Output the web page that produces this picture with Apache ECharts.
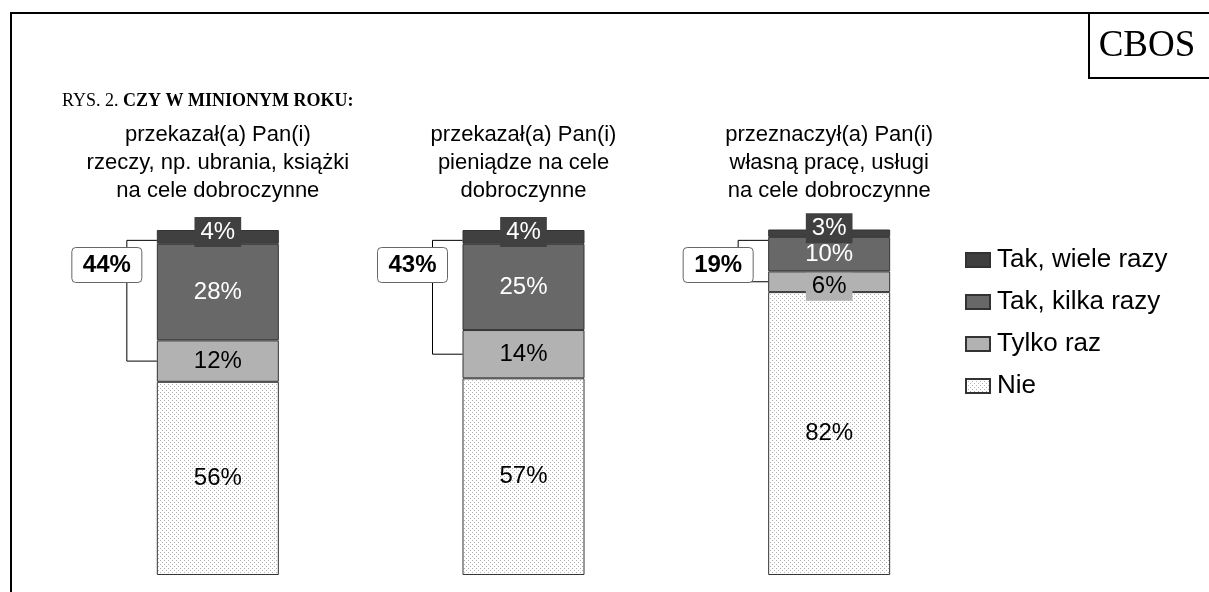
<!DOCTYPE html>
<html>
<head>
<meta charset="utf-8">
<script src="https://cdn.jsdelivr.net/npm/echarts@6/dist/echarts.min.js"></script>
<style>
html,body{margin:0;padding:0;background:#fff;}
#chart{width:1209px;height:592px;}
</style>
</head>
<body>
<div id="chart"></div>
<script>
// ---- data ----
var categories = [
  'przekazał(a) Pan(i)\nrzeczy, np. ubrania, książki\nna cele dobroczynne',
  'przekazał(a) Pan(i)\npieniądze na cele\ndobroczynne',
  'przeznaczył(a) Pan(i)\nwłasną pracę, usługi\nna cele dobroczynne'
];
var seriesNames = ['Tak, wiele razy', 'Tak, kilka razy', 'Tylko raz', 'Nie'];
var takWiele = [4, 4, 3];
var takKilka = [28, 25, 10];
var tylkoRaz = [12, 14, 6];
var nie = [56, 57, 82];
var takRazem = [44, 43, 19];

// ---- styles ----
var FONT = '"Liberation Sans", Arial, sans-serif';
var SERIF = '"Liberation Serif", "Times New Roman", serif';
var C_DARK = '#404040', C_MED = '#686868', C_LIGHT = '#b2b2b2';

function dotPattern() {
  var c = document.createElement('canvas');
  c.width = 4; c.height = 4;
  var ctx = c.getContext('2d');
  ctx.fillStyle = '#ffffff';
  ctx.fillRect(0, 0, 4, 4);
  ctx.fillStyle = '#b0b0b0';
  ctx.fillRect(0, 0, 1, 1);
  ctx.fillRect(2, 2, 1, 1);
  return c;
}

var chart = echarts.init(document.getElementById('chart'), null, {renderer: 'canvas'});

var baseItem = {borderColor: '#333333', borderWidth: 1};
var lblBase = {show: true, fontFamily: FONT, fontSize: 24, formatter: '{c}%'};

var option = {
  animation: false,
  backgroundColor: '#ffffff',
  title: {
    left: 57, top: 87,
    text: '{a|RYS. 2. }{b|CZY W MINIONYM ROKU:}',
    textStyle: {
      rich: {
        a: {fontFamily: SERIF, fontSize: 18, fontWeight: 'normal', color: '#000'},
        b: {fontFamily: SERIF, fontSize: 18, fontWeight: 'bold', color: '#000'}
      }
    }
  },
  legend: {
    orient: 'vertical', left: 965, top: 247, padding: 0,
    itemWidth: 24, itemHeight: 14, itemGap: 16,
    icon: 'rect',
    data: seriesNames,
    textStyle: {fontFamily: FONT, fontSize: 26, color: '#000', lineHeight: 26, padding: [0, 0, 0, 2]}
  },
  grid: {left: 65, width: 917, top: 230, height: 345},
  xAxis: {
    type: 'category', position: 'top', data: categories,
    axisLine: {show: false}, axisTick: {show: false}, splitLine: {show: false},
    axisLabel: {fontFamily: FONT, fontSize: 22, lineHeight: 28, color: '#000', margin: 25, interval: 0}
  },
  yAxis: {type: 'value', min: 0, max: 100, show: false},
  series: [
    {
      name: 'Nie', type: 'bar', stack: 'a', barWidth: 122, data: nie,
      itemStyle: Object.assign({color: {image: dotPattern(), repeat: 'repeat'}}, baseItem),
      label: Object.assign({color: '#000'}, lblBase)
    },
    {
      name: 'Tylko raz', type: 'bar', stack: 'a', barWidth: 122,
      data: tylkoRaz.map(function (v, i) {
        return i === 2 ? {value: v, label: {offset: [0, 5]}} : v;
      }),
      itemStyle: Object.assign({color: C_LIGHT}, baseItem),
      label: Object.assign({color: '#000', backgroundColor: C_LIGHT, padding: [2, 6]}, lblBase)
    },
    {
      name: 'Tak, kilka razy', type: 'bar', stack: 'a', barWidth: 122, data: takKilka,
      itemStyle: Object.assign({color: C_MED}, baseItem),
      label: Object.assign({color: '#fff'}, lblBase)
    },
    {
      name: 'Tak, wiele razy', type: 'bar', stack: 'a', barWidth: 122, data: takWiele,
      itemStyle: Object.assign({color: C_DARK}, baseItem),
      label: Object.assign({color: '#fff', backgroundColor: C_DARK, padding: [3, 6], offset: [0, -5]}, lblBase)
    }
  ]
};
chart.setOption(option);

// ---- frame, CBOS box, brackets ----
var g = [
  {type: 'line', shape: {x1: 11, y1: 13, x2: 1215, y2: 13}, style: {stroke: '#000', lineWidth: 2}, z: 10},
  {type: 'line', shape: {x1: 11, y1: 12, x2: 11, y2: 600}, style: {stroke: '#000', lineWidth: 2}, z: 10},
  {type: 'rect', shape: {x: 1089, y: 13, width: 130, height: 65}, style: {fill: '#fff', stroke: '#000', lineWidth: 2}, z: 10},
  {type: 'text', x: 1147, y: 46, style: {text: 'CBOS', fontFamily: SERIF, fontSize: 37, fill: '#000', align: 'center', verticalAlign: 'middle'}, z: 11}
];
var halfBar = 61;
for (var i = 0; i < categories.length; i++) {
  var topPt = chart.convertToPixel({gridIndex: 0}, [i, 97]);
  var botPt = chart.convertToPixel({gridIndex: 0}, [i, nie[i] + tylkoRaz[i] * 0.5]);
  var boxPt = chart.convertToPixel({gridIndex: 0}, [i, 90]);
  var left = topPt[0] - halfBar;
  var vx = left - 30;
  g.push({
    type: 'polyline',
    shape: {points: [[left, topPt[1]], [vx, topPt[1]], [vx, botPt[1]], [left, botPt[1]]]},
    style: {stroke: '#000', lineWidth: 1, fill: null}, z: 5
  });
  g.push({
    type: 'rect', shape: {x: left - 85, y: boxPt[1] - 17, width: 70, height: 35, r: 4},
    style: {fill: '#fff', stroke: '#666', lineWidth: 1}, z: 6
  });
  g.push({
    type: 'text', x: left - 50, y: boxPt[1] + 1,
    style: {text: takRazem[i] + '%', fontFamily: FONT, fontSize: 24, fontWeight: 'bold', fill: '#000', align: 'center', verticalAlign: 'middle'}, z: 7
  });
}
chart.setOption({graphic: g});
</script>
</body>
</html>
